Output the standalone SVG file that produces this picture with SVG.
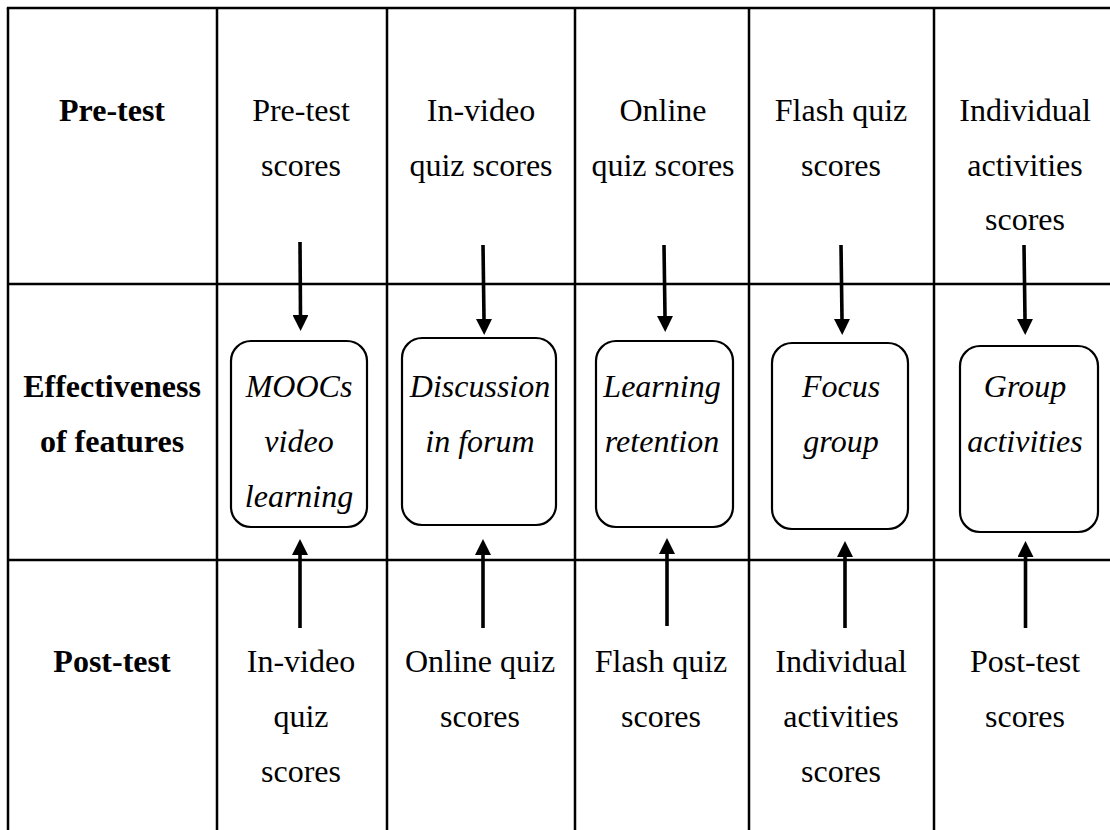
<svg xmlns="http://www.w3.org/2000/svg" width="1110" height="830" viewBox="0 0 1110 830">
<defs>
<style>
.grid{stroke:#000;stroke-width:2.5;fill:none}
.box{fill:#fff;stroke:#000;stroke-width:2.2}
.arr{stroke:#000;stroke-width:3.6;fill:none;marker-end:url(#ah)}
text{font-family:"Liberation Serif","Times New Roman",serif;font-size:32px;fill:#000;text-anchor:middle}
.hd{font-weight:bold}
.it{font-style:italic}
</style>
<marker id="ah" markerUnits="userSpaceOnUse" markerWidth="16" markerHeight="16" viewBox="0 0 16 16" refX="0" refY="8" orient="auto">
<path d="M0,0 L16,8 L0,16 z" fill="#000"/>
</marker>
</defs>
<rect width="1110" height="830" fill="#fff"/>
<g id="table">
<line class="grid" x1="6.8" y1="8" x2="1110" y2="8"/>
<line class="grid" x1="8" y1="284" x2="1110" y2="284"/>
<line class="grid" x1="8" y1="560" x2="1110" y2="560"/>
<line class="grid" x1="8" y1="8" x2="8" y2="830"/>
<line class="grid" x1="217" y1="8" x2="217" y2="830"/>
<line class="grid" x1="387" y1="8" x2="387" y2="830"/>
<line class="grid" x1="575" y1="8" x2="575" y2="830"/>
<line class="grid" x1="749" y1="8" x2="749" y2="830"/>
<line class="grid" x1="934" y1="8" x2="934" y2="830"/>
</g>
<g id="row-headers">
<text class="hd" x="112" y="121">Pre-test</text>
<text class="hd" x="112" y="397">Effectiveness</text>
<text class="hd" x="112" y="452">of features</text>
<text class="hd" x="112" y="672">Post-test</text>
</g>
<g id="pre1"><text x="301" y="121">Pre-test</text><text x="301" y="176">scores</text></g>
<g id="pre2"><text x="481" y="121">In-video</text><text x="481" y="176">quiz scores</text></g>
<g id="pre3"><text x="663" y="121">Online</text><text x="663" y="176">quiz scores</text></g>
<g id="pre4"><text x="841" y="121">Flash quiz</text><text x="841" y="176">scores</text></g>
<g id="pre5"><text x="1025" y="121">Individual</text><text x="1025" y="176">activities</text><text x="1025" y="230">scores</text></g>
<g id="f1"><rect class="box" x="231" y="341" width="136" height="186" rx="20"/><text class="it" x="299" y="397">MOOCs</text><text class="it" x="299" y="452">video</text><text class="it" x="299" y="507">learning</text></g>
<g id="f2"><rect class="box" x="402" y="338" width="154" height="187" rx="20"/><text class="it" x="480" y="397">Discussion</text><text class="it" x="480" y="452">in forum</text></g>
<g id="f3"><rect class="box" x="596" y="341" width="137" height="186" rx="20"/><text class="it" x="662" y="397">Learning</text><text class="it" x="662" y="452">retention</text></g>
<g id="f4"><rect class="box" x="772" y="343" width="136" height="186" rx="20"/><text class="it" x="841" y="397">Focus</text><text class="it" x="841" y="452">group</text></g>
<g id="f5"><rect class="box" x="960" y="346" width="138" height="186" rx="20"/><text class="it" x="1025" y="397">Group</text><text class="it" x="1025" y="452">activities</text></g>
<g id="post1"><text x="301" y="672">In-video</text><text x="301" y="727">quiz</text><text x="301" y="782">scores</text></g>
<g id="post2"><text x="480" y="672">Online quiz</text><text x="480" y="727">scores</text></g>
<g id="post3"><text x="661" y="672">Flash quiz</text><text x="661" y="727">scores</text></g>
<g id="post4"><text x="841" y="672">Individual</text><text x="841" y="727">activities</text><text x="841" y="782">scores</text></g>
<g id="post5"><text x="1025" y="672">Post-test</text><text x="1025" y="727">scores</text></g>
<g id="connectors">
<line class="arr" x1="300" y1="242" x2="300.5" y2="315"/>
<line class="arr" x1="483" y1="245" x2="484" y2="319"/>
<line class="arr" x1="664" y1="245" x2="665" y2="316"/>
<line class="arr" x1="841" y1="245" x2="842" y2="319"/>
<line class="arr" x1="1024" y1="245" x2="1025" y2="319"/>
<line class="arr" x1="300" y1="628" x2="300" y2="555"/>
<line class="arr" x1="483" y1="628" x2="483" y2="555"/>
<line class="arr" x1="667" y1="626" x2="667" y2="554"/>
<line class="arr" x1="845" y1="628" x2="845" y2="557"/>
<line class="arr" x1="1025.5" y1="628" x2="1025.5" y2="557"/>
</g>
</svg>
